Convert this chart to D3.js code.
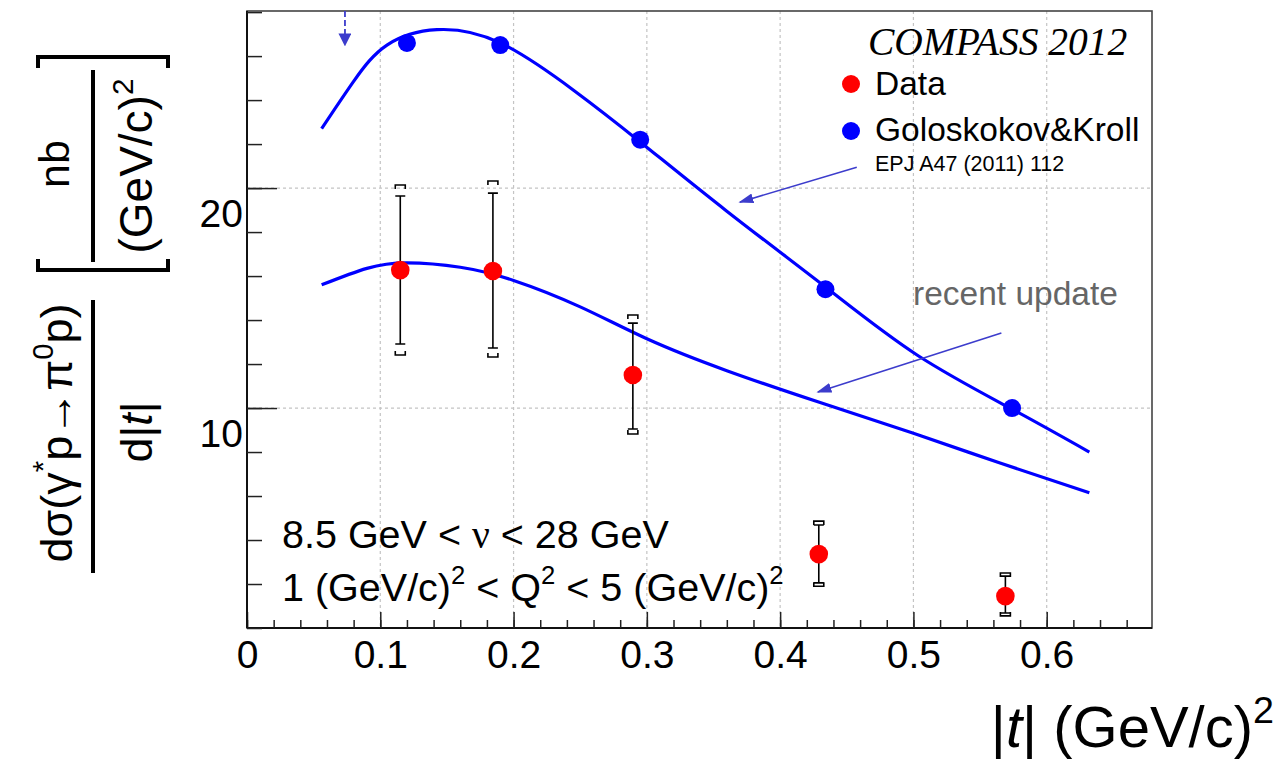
<!DOCTYPE html>
<html>
<head>
<meta charset="utf-8">
<script src="https://cdn.jsdelivr.net/npm/d3@7"></script>
<style>
  body { margin: 0; background: #fff; }
  svg { font-family: "Liberation Sans", Arial, sans-serif; }
</style>
</head>
<body>
<script>
// measured COMPASS 2012 points (|t| in (GeV/c)^2, cross section in nb/(GeV/c)^2)
const tData = [0.115, 0.1845, 0.2895, 0.429, 0.569];
const xsData = [16.27, 16.23, 11.5, 3.36, 1.45];
const statLo = [12.91, 12.73, 9.05, 2.05, 0.68];
const statHi = [19.64, 19.77, 13.86, 4.68, 2.36];
const sysLo = [12.41, 12.32, 8.82, 1.9, 0.55];
const sysHi = [20.14, 20.32, 14.23, 4.86, 2.5];

// Goloskokov & Kroll model points
const tGK = [0.12, 0.19, 0.295, 0.434, 0.574];
const xsGK = [26.6, 26.5, 22.2, 15.4, 10.0];

// model curves (EPJ A47 and the recent update)
const curveOldT = [0.056, 0.08, 0.105, 0.1425, 0.19, 0.245, 0.295, 0.36, 0.434, 0.503, 0.574, 0.632];
const curveOldXs = [22.7, 24.85, 26.5, 27.2, 26.6, 24.45, 22.1, 18.95, 15.5, 12.4, 9.95, 8.0];
const curveNewT = [0.056, 0.09, 0.12, 0.16, 0.2, 0.25, 0.3, 0.36, 0.43, 0.5, 0.565, 0.632];
const curveNewXs = [15.6, 16.35, 16.6, 16.4, 15.8, 14.6, 13.15, 11.7, 10.25, 8.85, 7.5, 6.15];

// axis ticks
const xMajor = [0, 0.1, 0.2, 0.3, 0.4, 0.5, 0.6];
const xMinor = d3.range(0, 0.68, 0.02);
const yMajor = [10, 20];
const yMinor = d3.range(0, 28.1, 2);

const svgWidth = 1279;
const svgHeight = 764;
const frameLeft = 247, frameRight = 1152, frameTop = 11, frameBottom = 628;
const arrowColor = "#3c3ccc";

var svg = d3.select("body")
  .append("svg")
  .attr("width", svgWidth)
  .attr("height", svgHeight);

var x = d3.scaleLinear().domain([0, 0.679]).range([frameLeft, frameRight]);
var y = d3.scaleLinear().domain([0, 28.05]).range([frameBottom, frameTop]);

var defs = svg.append("defs");
function addHead(id, len, wid) {
  defs.append("marker")
    .attr("id", id)
    .attr("viewBox", "0 0 10 10")
    .attr("refX", 9).attr("refY", 5)
    .attr("markerWidth", len).attr("markerHeight", wid)
    .attr("markerUnits", "userSpaceOnUse")
    .attr("orient", "auto")
    .attr("preserveAspectRatio", "none")
    .append("path")
    .attr("d", "M0,0 L10,5 L0,10 Z")
    .attr("fill", arrowColor);
}
addHead("head", 15, 10);
addHead("headBig", 13, 13);

// ---------- grid ----------
svg.append("g")
  .selectAll("line")
  .data(xMajor.slice(1))
  .enter().append("line")
  .attr("x1", d => x(d)).attr("x2", d => x(d))
  .attr("y1", frameTop).attr("y2", frameBottom)
  .attr("stroke", "#c4c4c4").attr("stroke-width", 1.2)
  .attr("stroke-dasharray", "3,3");
svg.append("g")
  .selectAll("line")
  .data(yMajor)
  .enter().append("line")
  .attr("x1", frameLeft).attr("x2", frameRight)
  .attr("y1", d => y(d)).attr("y2", d => y(d))
  .attr("stroke", "#c4c4c4").attr("stroke-width", 1.2)
  .attr("stroke-dasharray", "3,3");

// frame
svg.append("rect")
  .attr("x", frameLeft).attr("y", frameTop)
  .attr("width", frameRight - frameLeft).attr("height", frameBottom - frameTop)
  .attr("fill", "none").attr("stroke", "#444").attr("stroke-width", 1.6);

// ---------- axes ----------
var xAxis = svg.append("g")
  .attr("transform", "translate(0," + frameBottom + ")")
  .call(d3.axisBottom(x).tickValues(xMajor).tickSize(-16).tickFormat(d3.format(".1~f")));
xAxis.select(".domain").attr("stroke", "#111").attr("stroke-width", 2).attr("d", "M" + frameLeft + ",0H" + frameRight);
xAxis.selectAll(".tick line").attr("stroke", "#222").attr("stroke-width", 1.5);
xAxis.selectAll(".tick text")
  .attr("y", 40).attr("dy", 0)
  .attr("font-size", 39).attr("fill", "#000")
  .attr("font-family", "Liberation Sans, Arial, sans-serif");

svg.append("g")
  .attr("transform", "translate(0," + frameBottom + ")")
  .call(d3.axisBottom(x).tickValues(xMinor).tickSize(-8).tickFormat(""))
  .call(g => g.select(".domain").remove())
  .selectAll(".tick line").attr("stroke", "#222").attr("stroke-width", 1.5);

var yAxis = svg.append("g")
  .attr("transform", "translate(" + frameLeft + ",0)")
  .call(d3.axisLeft(y).tickValues(yMajor).tickSize(-30).tickFormat(d3.format("d")));
yAxis.select(".domain").attr("stroke", "#111").attr("stroke-width", 2).attr("d", "M0," + frameTop + "V" + frameBottom);
yAxis.selectAll(".tick line").attr("stroke", "#222").attr("stroke-width", 1.5);
yAxis.selectAll(".tick text")
  .attr("x", -4).attr("dy", 38)
  .attr("font-size", 39).attr("fill", "#000")
  .attr("font-family", "Liberation Sans, Arial, sans-serif");

svg.append("g")
  .attr("transform", "translate(" + frameLeft + ",0)")
  .call(d3.axisLeft(y).tickValues(yMinor).tickSize(-15).tickFormat(""))
  .call(g => g.select(".domain").remove())
  .selectAll(".tick line").attr("stroke", "#222").attr("stroke-width", 1.5);

// ---------- curves ----------
var line = d3.line()
  .x(d => x(d[0]))
  .y(d => y(d[1]))
  .curve(d3.curveNatural);

svg.append("path")
  .datum(d3.zip(curveOldT, curveOldXs))
  .attr("d", line)
  .attr("fill", "none").attr("stroke", "#0000ff").attr("stroke-width", 3.2);
svg.append("path")
  .datum(d3.zip(curveNewT, curveNewXs))
  .attr("d", line)
  .attr("fill", "none").attr("stroke", "#0000ff").attr("stroke-width", 3.2);

// GK model points
svg.append("g")
  .selectAll("circle")
  .data(d3.zip(tGK, xsGK))
  .enter().append("circle")
  .attr("cx", d => x(d[0])).attr("cy", d => y(d[1]))
  .attr("r", 9).attr("fill", "#0000ff");

// ---------- data with errors ----------
var pts = tData.map((t, i) => ({ t: t, v: xsData[i], lo: statLo[i], hi: statHi[i], slo: sysLo[i], shi: sysHi[i] }));
var errG = svg.append("g").attr("stroke", "#000").attr("stroke-width", 1.6).attr("fill", "none");
errG.selectAll(".stat")
  .data(pts).enter().append("path")
  .attr("d", d => {
    var cx = x(d.t), a = y(d.hi), b = y(d.lo);
    return "M" + cx + "," + a + "V" + b +
      "M" + (cx - 5) + "," + a + "H" + (cx + 5) +
      "M" + (cx - 5) + "," + b + "H" + (cx + 5);
  });
errG.selectAll(".sys")
  .data(pts).enter().append("path")
  .attr("d", d => {
    var cx = x(d.t), a = y(d.shi), b = y(d.slo);
    return "M" + (cx - 5) + "," + (a + 4) + "V" + a + "H" + (cx + 5) + "V" + (a + 4) +
      "M" + (cx - 5) + "," + (b - 4) + "V" + b + "H" + (cx + 5) + "V" + (b - 4);
  });
svg.append("g")
  .selectAll("circle")
  .data(pts)
  .enter().append("circle")
  .attr("cx", d => x(d.t)).attr("cy", d => y(d.v))
  .attr("r", 9.3).attr("fill", "#ff0000");

// ---------- annotations ----------
// dashed arrow at top-left
svg.append("line")
  .attr("x1", x(0.0735)).attr("y1", y(28.05))
  .attr("x2", x(0.0735)).attr("y2", y(26.5))
  .attr("stroke", arrowColor).attr("stroke-width", 1.8)
  .attr("stroke-dasharray", "6,3")
  .attr("marker-end", "url(#headBig)");

svg.append("line")
  .attr("x1", x(0.4575)).attr("y1", y(20.95))
  .attr("x2", x(0.3698)).attr("y2", y(19.36))
  .attr("stroke", arrowColor).attr("stroke-width", 1.6)
  .attr("marker-end", "url(#head)");

svg.append("line")
  .attr("x1", x(0.566)).attr("y1", y(13.41))
  .attr("x2", x(0.4283)).attr("y2", y(10.73))
  .attr("stroke", arrowColor).attr("stroke-width", 1.6)
  .attr("marker-end", "url(#head)");

svg.append("text")
  .attr("x", 913).attr("y", 305)
  .attr("font-size", 33.5).attr("fill", "#666")
  .text("recent update");

// legend
svg.append("text")
  .attr("x", 868).attr("y", 55)
  .attr("font-family", "Liberation Serif, Times New Roman, serif")
  .attr("font-style", "italic")
  .attr("font-size", 39.5)
  .text("COMPASS 2012");

const legendItems = [["Data", "#ff0000"], ["Goloskokov&Kroll", "#0000ff"]];
var leg = svg.append("g");
leg.selectAll("circle")
  .data(legendItems).enter().append("circle")
  .attr("cx", 851).attr("cy", (d, i) => 84 + i * 47)
  .attr("r", 9).attr("fill", d => d[1]);
leg.selectAll("text")
  .data(legendItems).enter().append("text")
  .attr("x", 875).attr("y", (d, i) => 95 + i * 46)
  .attr("font-size", 33.5)
  .text(d => d[0]);
svg.append("text")
  .attr("x", 875).attr("y", 171)
  .attr("font-size", 21.5)
  .text("EPJ A47 (2011) 112");

// helper for text with superscripts
function richText(sel, parts, fs) {
  var up = false;
  parts.forEach(p => {
    var ts = sel.append("tspan").text(p.t);
    if (p.sup) {
      ts.attr("font-size", fs * 0.65).attr("dy", -fs * 0.42);
      up = true;
    } else {
      if (up) ts.attr("dy", fs * 0.42);
      up = false;
    }
    if (p.it) ts.attr("font-style", "italic");
    if (p.serif) ts.attr("font-family", "Liberation Serif, Times New Roman, serif");
  });
}

var kin1 = svg.append("text").attr("x", 282).attr("y", 548).attr("font-size", 39.5);
richText(kin1, [{ t: "8.5 GeV < " }, { t: "ν", serif: true }, { t: " < 28 GeV" }], 39.5);
var kin2 = svg.append("text").attr("x", 282).attr("y", 601).attr("font-size", 39.5);
richText(kin2, [{ t: "1 (GeV/c)" }, { t: "2", sup: true }, { t: " < Q" }, { t: "2", sup: true }, { t: " < 5 (GeV/c)" }, { t: "2", sup: true }], 39.5);

// x title
var xt = svg.append("text").attr("x", 1274).attr("y", 747).attr("font-size", 58).attr("text-anchor", "end");
richText(xt, [{ t: "|" }, { t: "t", it: true }, { t: "| (GeV/c)" }, { t: "2", sup: true }], 58);

// y title (rotated, screen x = y', screen y = -x')
var yt = svg.append("g").attr("transform", "rotate(-90)");
var num = yt.append("text").attr("x", -433).attr("y", 72).attr("font-size", 45).attr("text-anchor", "middle");
richText(num, [{ t: "dσ(γ" }, { t: "*", sup: true }, { t: "p→π" }, { t: "0", sup: true }, { t: "p)" }], 45);
yt.append("line")
  .attr("x1", -573).attr("x2", -300).attr("y1", 93).attr("y2", 93)
  .attr("stroke", "#000").attr("stroke-width", 4);
var den = yt.append("text").attr("x", -432).attr("y", 152).attr("font-size", 45).attr("text-anchor", "middle");
richText(den, [{ t: "d|" }, { t: "t", it: true }, { t: "|" }], 45);

var nb = yt.append("text").attr("x", -164).attr("y", 69).attr("font-size", 43).attr("text-anchor", "middle");
nb.text("nb");
yt.append("line")
  .attr("x1", -262).attr("x2", -70).attr("y1", 93).attr("y2", 93)
  .attr("stroke", "#000").attr("stroke-width", 4);
var gev = yt.append("text").attr("x", -166).attr("y", 152).attr("font-size", 46).attr("text-anchor", "middle");
richText(gev, [{ t: "(GeV/c)" }, { t: "2", sup: true }], 46);

// square brackets round the unit
svg.append("path")
  .attr("d", "M38,68V57H168V68M38,259V270H168V259")
  .attr("fill", "none").attr("stroke", "#000").attr("stroke-width", 4);
</script>
</body>
</html>
